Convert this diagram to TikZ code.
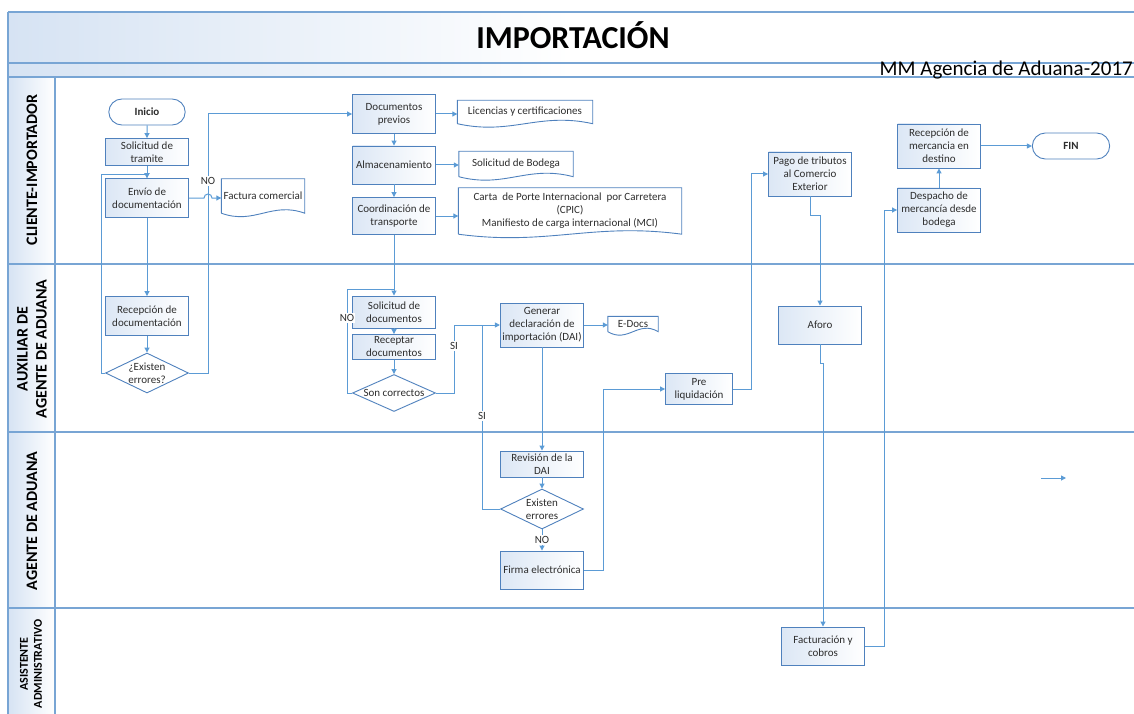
\documentclass[tikz,border=0pt]{standalone}
\usepackage{fontspec}
\setmainfont{Carlito}
\usetikzlibrary{shapes.geometric,shapes.misc,arrows.meta,calc}
\definecolor{lanec}{RGB}{120,165,212}
\definecolor{boxc}{RGB}{79,129,189}
\definecolor{flowc}{RGB}{91,155,213}
\definecolor{boxfill}{RGB}{220,231,245}
\definecolor{hdrfill}{RGB}{214,227,243}
\definecolor{txtc}{RGB}{45,45,45}
% wavy bottom of a document shape
\newcommand{\docshape}[1]{%
  \draw[boxc, line width=.9pt] (#1.south west) -- (#1.north west) -- (#1.north east) -- (#1.south east)
    .. controls ($(#1.south west)!.6!(#1.south east)+(0,-12)$) and ($(#1.south west)!.4!(#1.south east)+(0,12)$) .. (#1.south west);}
\begin{document}
\begin{tikzpicture}
[x=1pt,y=-1pt,
 every node/.style={font=\fontsize{11}{13}\selectfont, text=txtc},
 proc/.style={rectangle, draw=boxc, line width=.9pt, left color=boxfill, right color=white, align=center, minimum width=83pt, inner sep=2pt},
 term/.style={rounded rectangle, draw=boxc, line width=.9pt, fill=white, minimum width=83pt, minimum height=26pt, font=\fontsize{11}{13}\selectfont\bfseries},
 decis/.style={diamond, draw=boxc, line width=.9pt, fill=white, minimum width=83pt, minimum height=40pt, inner sep=0pt},
 docu/.style={rectangle, align=center, inner sep=1pt},
 flow/.style={draw=flowc, line width=1pt, -{Triangle[length=5pt,width=5pt]}},
 link/.style={draw=flowc, line width=1pt},
 lane/.style={draw=lanec, line width=1.3pt},
 lanelbl/.style={rotate=90, align=center, font=\fontsize{16}{19}\selectfont\bfseries, text=black},
 tag/.style={fill=white, inner sep=1pt}]
\useasboundingbox (0,0) rectangle (1134,714);
% title band and lanes
\shade[left color=hdrfill, right color=white, middle color=white] (8,12) rectangle (1134,77);
\shade[left color=hdrfill, right color=white] (8,77) rectangle (55,714);
\foreach \y in {12,63,77,264,432,608}
  \draw[lane] (8,\y) -- (1134,\y);
\draw[lane] (8,12) -- (8,714);
\draw[lane] (55,77) -- (55,714);
\node[font=\fontsize{32}{36}\selectfont\bfseries, text=black] (title) at (573,35) {IMPORTACIÓN};
\node[anchor=base east, font=\fontsize{21}{24}\selectfont, text=black, inner sep=0pt] (sub) at (1133,76) {MM Agencia de Aduana-2017};
\node[lanelbl] (lcli) at (32,170) {CLIENTE-IMPORTADOR};
\node[lanelbl] (laux) at (32,349) {AUXILIAR DE\\AGENTE DE ADUANA};
\node[lanelbl] (lage) at (32,521) {AGENTE DE ADUANA};
\node[lanelbl, font=\fontsize{12}{14}\selectfont\bfseries] (lasi) at (31,664) {ASISTENTE\\ADMINISTRATIVO};
% bends of the connectors
\coordinate (c0) at (101,175);
\coordinate (c1) at (208,114);
\coordinate (c2) at (347,289);
\coordinate (c3) at (454,325);
\coordinate (c4) at (482,325);
\coordinate (c5) at (603,389);
\coordinate (c6) at (751,174);
\coordinate (c7) at (820,215);
\coordinate (c8) at (823,363);
\coordinate (c9) at (884,210);
\coordinate (s1) at (1041,478);
\coordinate (s2) at (1066,478);
% cliente
\node[term] (ini) at (147,112) {Inicio};
\node[proc, minimum height=27pt, inner ysep=0pt] (soltr) at (147,152) {Solicitud de\\tramite};
\node[proc, minimum height=39pt] (envio) at (147,198) {Envío de\\documentación};
\node[docu, minimum width=83pt, minimum height=34pt] (fact) at (263,196) {Factura comercial};
\node[proc, minimum height=39pt] (docprev) at (394,114) {Documentos\\previos};
\node[docu, minimum width=135pt, minimum height=23pt] (lic) at (525,112) {Licencias y certificaciones};
\node[proc, minimum height=38pt] (almac) at (394,165) {Almacenamiento};
\node[docu, minimum width=114pt, minimum height=25pt] (bodega) at (516,164) {Solicitud de Bodega};
\node[proc, minimum height=37pt] (coord) at (394,216) {Coordinación de\\transporte};
\node[docu, minimum width=223pt, minimum height=46pt] (carta) at (570,211) {Carta\ \ de Porte Internacional\ \ por Carretera\\(CPIC)\\Manifiesto de carga internacional (MCI)};
\node[proc, minimum height=44pt] (pago) at (810,174) {Pago de tributos\\al Comercio\\Exterior};
\node[proc, minimum height=44pt] (recmerc) at (939,146) {Recepción de\\mercancia en\\destino};
\node[proc, minimum height=44pt] (desp) at (939,210) {Despacho de\\mercancía desde\\bodega};
\node[term, minimum width=84pt] (fin) at (1071,146) {FIN};
% auxiliar
\node[proc, minimum height=39pt] (recdoc) at (147,316) {Recepción de\\documentación};
\node[decis, label={[align=center]center:¿Existen\\errores?}] (err1) at (147,373) {};
\node[proc, minimum height=32pt] (soldoc) at (394,312) {Solicitud de\\documentos};
\node[proc, minimum height=25pt, inner ysep=0pt] (recep) at (394,347) {Receptar\\documentos};
\node[decis, minimum height=37pt, label={center:Son correctos}] (son) at (394,393) {};
\node[proc, minimum height=44pt] (gen) at (542,325) {Generar\\declaración de\\importación (DAI)};
\node[docu, minimum width=50pt, minimum height=15pt] (edocs) at (633,324) {E-Docs};
\node[proc, minimum width=67pt, minimum height=31pt] (preliq) at (699,389) {Pre\\liquidación};
\node[proc, minimum height=38pt] (aforo) at (820,325) {Aforo};
% agente
\node[proc, minimum height=26pt, inner ysep=0pt] (rev) at (542,464) {Revisión de la\\DAI};
\node[decis, label={[align=center]center:Existen\\errores}] (err2) at (542,509) {};
\node[proc, minimum height=38pt] (firma) at (542,570) {Firma electrónica};
% asistente
\node[proc, minimum height=38pt] (factcob) at (823,646) {Facturación y\\cobros};
\foreach \d in {fact,lic,bodega,carta,edocs}
  \docshape{\d};
% connectors
\draw[flow] (ini) -- (soltr);
\draw[flow] (soltr) -- (envio);
\draw[flow] (err1.west) -| (c0) -| (envio.north);
\draw[flow] (err1.east) -| (c1) -- (docprev.west);
\draw[flow] (envio.east) -- ([xshift=-4pt]envio.east -| c1) arc[start angle=180, end angle=360, radius=4] -- (envio.east -| fact.west);
\node[tag] (no1) at (208,181) {NO};
\draw[flow] (envio) -- (recdoc);
\draw[flow] (recdoc) -- (err1);
\draw[flow] (docprev.east) -- (docprev.east -| lic.west);
\draw[flow] (docprev) -- (almac);
\draw[flow] (almac.east) -- (almac.east -| bodega.west);
\draw[flow] (almac) -- (coord);
\draw[flow] (coord.east) -- (coord.east -| carta.west);
\draw[flow] (coord) -- (soldoc);
\draw[link] (son.west) -| (c2) -- (c2 -| soldoc.north);
\node[tag] (no2) at (347,318) {NO};
\draw[flow] (soldoc) -- (recep);
\draw[flow] (recep) -- (son);
\draw[flow] (son.east) -| (c3) -- (gen.west);
\node[tag] (si1) at (454,346) {SI};
\draw[link] (err2.west) -| (c4);
\node[tag] (si2) at (482,416) {SI};
\draw[flow] (gen.east) -- (gen.east -| edocs.west);
\draw[flow] (gen) -- (rev);
\draw[flow] (rev) -- (err2);
\draw[flow] (err2) -- node[tag] (no3) {NO} (firma);
\draw[flow] (firma.east) -| (c5) -- (preliq.west);
\draw[flow] (preliq.east) -| (c6) -- (pago.west);
\draw[flow] (pago.south) |- (c7) -- (aforo.north);
\draw[flow] (aforo.south) |- (c8) -- (factcob.north);
\draw[flow] (factcob.east) -| (c9) -- (desp.west);
\draw[flow] (desp) -- (recmerc);
\draw[flow] (recmerc) -- (fin);
\draw[flow] (s1) -- (s2);
\end{tikzpicture}
\end{document}
